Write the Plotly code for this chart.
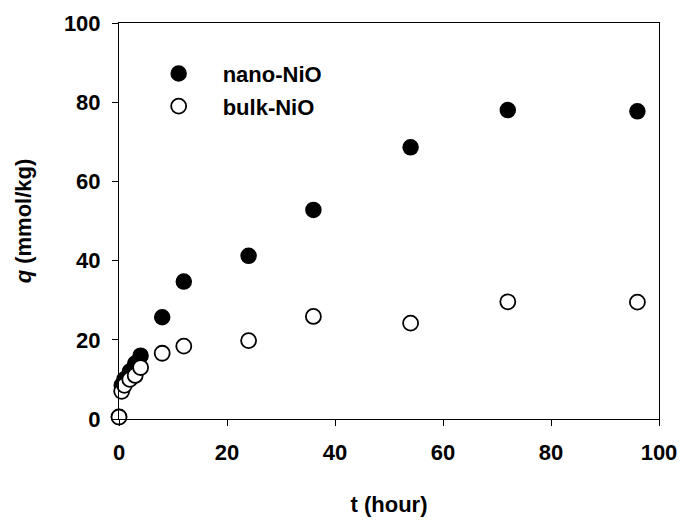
import plotly.graph_objects as go

t_hours = [0, 0.5, 1, 2, 3, 4, 8, 12, 24, 36, 54, 72, 96]
nano_q = [0.5, 8.5, 10.0, 12.0, 14.0, 16.0, 25.7, 34.7, 41.2, 52.8, 68.6, 78.0, 77.7]
bulk_q = [0.5, 7.0, 8.5, 10.0, 11.0, 13.0, 16.6, 18.4, 19.8, 25.9, 24.2, 29.6, 29.5]
x_ticks = [0, 20, 40, 60, 80, 100]
y_ticks = [0, 20, 40, 60, 80, 100]

FONT = "Liberation Sans, Arial, sans-serif"

fig = go.Figure()
fig.add_trace(go.Scatter(
    x=t_hours, y=nano_q, mode="markers", name="nano-NiO", legendgroup="a",
    marker=dict(symbol="circle", size=15, color="black", line=dict(color="black", width=1.5)),
    cliponaxis=False,
))
fig.add_trace(go.Scatter(
    x=t_hours, y=bulk_q, mode="markers", name="bulk-NiO", legendgroup="b",
    marker=dict(symbol="circle", size=15, color="white", line=dict(color="black", width=1.8)),
    cliponaxis=False,
))

axis_common = dict(
    showgrid=False, zeroline=False, showline=True, linecolor="black", linewidth=1,
    mirror=True, ticks="outside", ticklen=6, tickcolor="black", tickwidth=1,
    automargin=False, ticklabeloverflow="allow",
    tickfont=dict(family=FONT, size=22, color="black", weight="bold"),
)

# page body has an 8px default margin: figure sized so it fills 685x525 exactly
fig.update_layout(
    width=677, height=509,
    margin=dict(l=111, r=26, t=15, b=98),
    paper_bgcolor="white", plot_bgcolor="white",
    xaxis=dict(range=[0, 100], tickvals=x_ticks, ticklabelstandoff=8,
               title=dict(text="t (hour)", standoff=43,
                          font=dict(family=FONT, size=22, color="black", weight="bold")),
               **axis_common),
    yaxis=dict(range=[0, 100], tickvals=y_ticks, ticklabelstandoff=7,
               title=dict(text="<i>q</i> (mmol/kg)", standoff=26,
                          font=dict(family=FONT, size=22, color="black", weight="bold")),
               **axis_common),
    showlegend=True,
    legend=dict(x=0.029, y=0.925, xanchor="left", yanchor="top", itemwidth=78,
                bgcolor="rgba(0,0,0,0)", borderwidth=0, tracegroupgap=1,
                font=dict(family=FONT, size=22, color="black", weight="bold")),
)

fig.write_html("out.html")
